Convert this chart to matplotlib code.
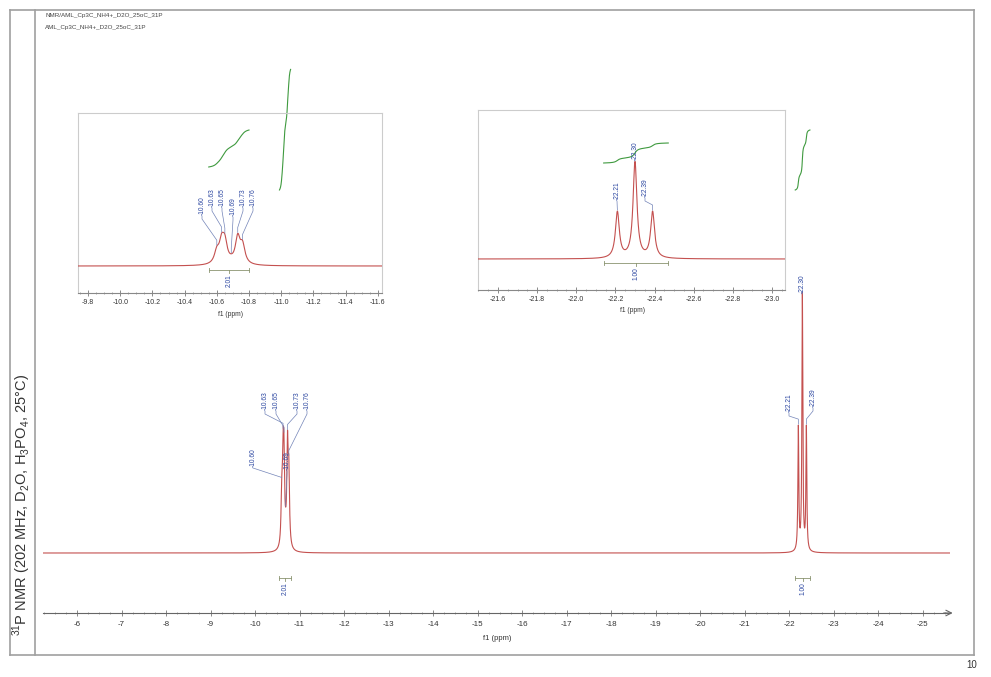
import numpy as np
import matplotlib
matplotlib.use('Agg')
import matplotlib.pyplot as plt
from matplotlib.lines import Line2D
from matplotlib.ticker import MultipleLocator, FormatStrFormatter

plt.rcParams['font.family'] = ['Liberation Sans', 'DejaVu Sans']
plt.rcParams['mathtext.fontset'] = 'custom'
plt.rcParams['mathtext.rm'] = 'Liberation Sans'
plt.rcParams['axes.unicode_minus'] = False

# peak list (ppm, relative height, half width in ppm)
peaks_a_ppm = [-10.60, -10.63, -10.65, -10.69, -10.73, -10.76]
peaks_a_amp = [17, 29, 29, 2, 38, 26]
peaks_a_hwhm = [0.018, 0.018, 0.018, 0.018, 0.018, 0.018]
peaks_b_ppm = [-22.21, -22.30, -22.39]
peaks_b_amp = [48, 100, 48]
peaks_b_hwhm = [0.012, 0.012, 0.012]

# integrals
integral_ranges = [(-10.55, -10.80), (-22.14, -22.47)]
integral_values = [2.01, 1.00]

main_ticks = list(range(-6, -26, -1))
title_lines = ['NMR/AML_Cp3C_NH4+_D2O_25oC_31P', 'AML_Cp3C_NH4+_D2O_25oC_31P']
ylabel = r'$^{31}$P NMR (202 MHz, D$_2$O, H$_3$PO$_4$, 25°C)'

W, H = 991, 677
BLUE = '#2a45a0'
LEAD = '#7384b8'
RED = '#c4504f'
GREEN = '#3f9a3f'
BRACKET = '#8a9470'

all_ppm = np.array(peaks_a_ppm + peaks_b_ppm)
all_amp = np.array(peaks_a_amp + peaks_b_amp)
all_w = np.array(peaks_a_hwhm + peaks_b_hwhm)


def spectrum(x):
    x = np.asarray(x, dtype=float)
    return (all_amp / (1 + ((x[..., None] - all_ppm) / all_w) ** 2)).sum(axis=-1)


fig = plt.figure(figsize=(W / 100, H / 100), dpi=100)


def panel(x0, x1, y0, y1, xlim, base, ppu):
    ax = fig.add_axes([x0 / W, 1 - y1 / H, (x1 - x0) / W, (y1 - y0) / H])
    ax.set_xlim(xlim)
    ax.set_ylim(-(y1 - base) / ppu, (base - y0) / ppu)
    ax.patch.set_alpha(0)
    return dict(ax=ax, x0=x0, x1=x1, xlim=xlim, base=base, ppu=ppu)


def xd(p, xpx):
    return p['xlim'][0] + (xpx - p['x0']) / (p['x1'] - p['x0']) * (p['xlim'][1] - p['xlim'][0])


def xp(p, ppm):
    return p['x0'] + (ppm - p['xlim'][0]) / (p['xlim'][1] - p['xlim'][0]) * (p['x1'] - p['x0'])


def yd(p, ypx):
    return (p['base'] - ypx) / p['ppu']


def yp(p, val):
    return p['base'] - val * p['ppu']


def draw_spectrum(p):
    x = np.linspace(p['xlim'][0], p['xlim'][1], 60001)
    p['ax'].plot(x, spectrum(x), color=RED, lw=0.8, zorder=3)


def peak_label(p, ppm, tx, tb):
    ax = p['ax']
    pk = xp(p, ppm)
    top = yp(p, spectrum([ppm])[0]) - 1
    ax.text(xd(p, tx), yd(p, tb), f'{ppm:.2f}', rotation=90, ha='center', va='bottom',
            fontsize=4.8, color=BLUE, zorder=5, clip_on=False)
    if top - tb < 12:
        pts = [(tx, tb + 1), (pk, top)]
    else:
        pts = [(tx, tb + 1), (tx, tb + 4), (pk, top - 5), (pk, top)]
    ax.plot([xd(p, a) for a, _ in pts], [yd(p, b) for _, b in pts], color=LEAD, lw=0.5,
            zorder=4, clip_on=False)


def integral_curve(p, rng, value, base_px, px_unit):
    x = np.linspace(rng[0], rng[1], 600)
    c = np.cumsum(spectrum(x))
    c = c / c[-1]
    p['ax'].plot(x, yd(p, base_px) + c * value * px_unit / p['ppu'], color=GREEN, lw=0.8,
                 zorder=4, clip_on=False)


def bracket(p, rng, value, y):
    ax = p['ax']
    a, b = xp(p, rng[0]), xp(p, rng[1])
    c = (a + b) / 2
    segs = [[(a, y), (b, y)], [(a, y - 2), (a, y + 2)], [(b, y - 2), (b, y + 2)], [(c, y), (c, y + 3)]]
    for s in segs:
        ax.plot([xd(p, u) for u, _ in s], [yd(p, v) for _, v in s], color=BRACKET, lw=0.6,
                clip_on=False)
    ax.text(xd(p, c), yd(p, y + 4), f'{value:.2f}', rotation=90, ha='center', va='top',
            fontsize=4.8, color=BLUE, clip_on=False)


def style_axis(ax, major, minor, fmt, size, pad):
    ax.xaxis.set_major_locator(MultipleLocator(major))
    ax.xaxis.set_minor_locator(MultipleLocator(minor))
    ax.xaxis.set_major_formatter(FormatStrFormatter(fmt))
    ax.tick_params(axis='x', which='major', direction='inout', length=4, width=0.6,
                   color='#777777', labelsize=size, labelcolor='#333333', pad=pad)
    ax.tick_params(axis='x', which='minor', direction='inout', length=2, width=0.5,
                   color='#888888')
    ax.set_yticks([])


# main spectrum
main = panel(43, 950, 40, 613, (-6 + 34 / 44.5, -6 - 873 / 44.5), 553, 2.56)
ax = main['ax']
draw_spectrum(main)
for s in ['left', 'right', 'top']:
    ax.spines[s].set_visible(False)
ax.spines['bottom'].set_color('#666666')
ax.spines['bottom'].set_linewidth(0.8)
style_axis(ax, 1, 0.25, '%d', 5.8, 4)
ax.set_xticks(main_ticks)
ax.annotate('', xy=(1.006, 0), xycoords='axes fraction', xytext=(0.99, 0),
            arrowprops=dict(arrowstyle='->', color='#666666', lw=0.8))

# main labels: text centre x / text bottom y in pixels
main_layout = {-10.60: (253, 467), -10.63: (265, 410), -10.65: (276, 410),
               -10.69: (287, 470), -10.73: (297, 410), -10.76: (307, 410),
               -22.21: (789, 412), -22.30: (802, 293), -22.39: (813, 407)}
for ppm in peaks_a_ppm + peaks_b_ppm:
    peak_label(main, ppm, *main_layout[ppm])
integral_curve(main, integral_ranges[0], integral_values[0], 190, 60)
integral_curve(main, integral_ranges[1], integral_values[1], 190, 60)
for rng, val in zip(integral_ranges, integral_values):
    bracket(main, rng, val, 578)

# insets
insets = [
    (panel(78, 382, 113, 293, (-9.8 + 10 / 161, -9.8 - 294 / 161), 266, 0.68),
     peaks_a_ppm, 0, 167, 18.4, 270, (230, 315),
     {-10.60: (202, 215), -10.63: (212, 207), -10.65: (222, 207),
      -10.69: (233, 216), -10.73: (243, 207), -10.76: (253, 207)}),
    (panel(478, 785, 110, 290, (-21.6 + 20 / 195.7, -21.6 - 287 / 195.7), 259, 0.96),
     peaks_b_ppm, 1, 163, 20, 263, (633, 311),
     {-22.21: (617, 200), -22.30: (635, 160), -22.39: (645, 197)}),
]
for p, plist, k, ibase, iunit, by, xlab, layout in insets:
    a = p['ax']
    draw_spectrum(p)
    for s in a.spines.values():
        s.set_color('#cccccc')
        s.set_linewidth(0.8)
    a.spines['bottom'].set_color('#888888')
    style_axis(a, 0.2, 0.05, '%.1f', 5, 2)
    for ppm in plist:
        peak_label(p, ppm, *layout[ppm])
    integral_curve(p, integral_ranges[k], integral_values[k], ibase, iunit)
    bracket(p, integral_ranges[k], integral_values[k], by)
    fig.text(xlab[0] / W, 1 - xlab[1] / H, 'f1 (ppm)', fontsize=4.8, color='#333333',
             ha='center', va='center')

fig.text(497 / W, 1 - 638 / H, 'f1 (ppm)', fontsize=5.5, color='#333333', ha='center', va='center')

# frame, header and side label
for xs, ys in [((10, 974), (10, 10)), ((10, 974), (655, 655)), ((10, 10), (10, 655)),
               ((974, 974), (10, 655)), ((35, 35), (10, 655))]:
    fig.add_artist(Line2D([x / W for x in xs], [1 - y / H for y in ys], color='#a0a0a0', lw=1.2))
for i, t in enumerate(title_lines):
    fig.text(45 / W, 1 - (16 + 12 * i) / H, t, fontsize=4.5, color='#444444', va='center')
fig.text(22 / W, 1 - 505 / H, ylabel, rotation=90, fontsize=10.5, color='#333333',
         ha='center', va='center')
fig.text(972 / W, 1 - 665 / H, '10', fontsize=7, color='#333333', ha='center', va='center')

plt.savefig('out.png', dpi=100)
